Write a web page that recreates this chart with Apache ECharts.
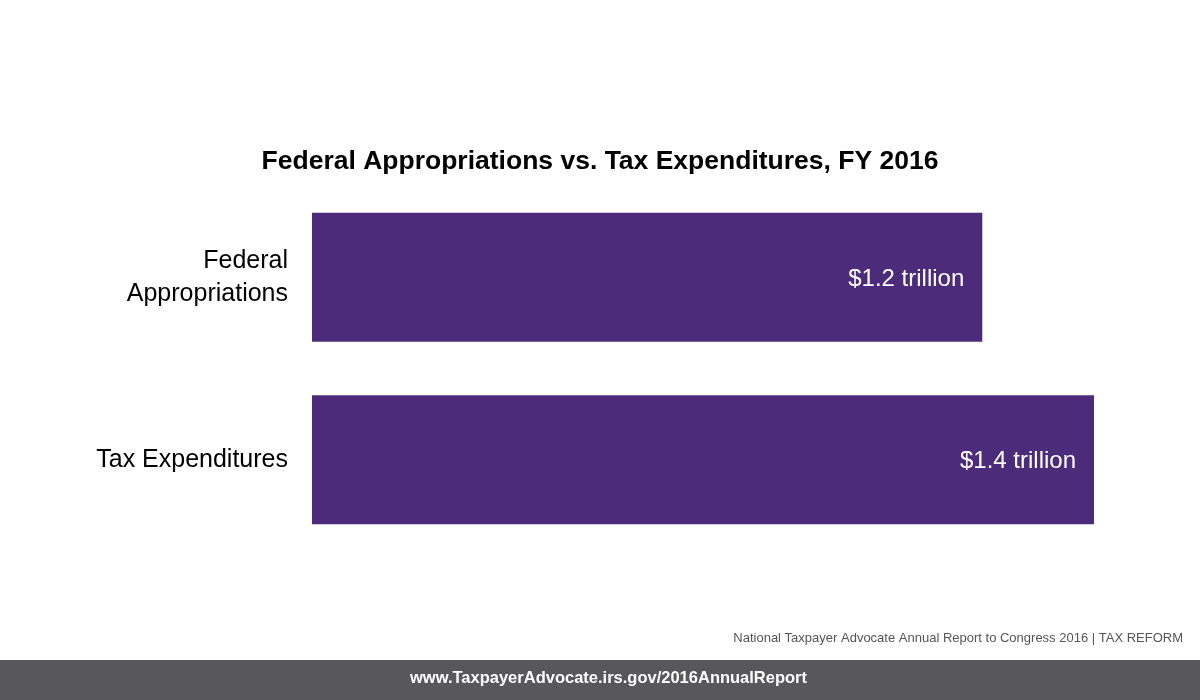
<!DOCTYPE html>
<html>
<head>
<meta charset="utf-8">
<script src="https://cdn.jsdelivr.net/npm/echarts@6/dist/echarts.min.js"></script>
<style>
html,body{margin:0;padding:0;background:#fff;}
#chart{width:1200px;height:700px;}
</style>
</head>
<body>
<div id="chart"></div>
<script>
const categories = ["Federal\nAppropriations", "Tax Expenditures"];
const values = [1.2, 1.4];
const valueLabels = ["$1.2 trillion", "$1.4 trillion"];
const titleText = "Federal Appropriations vs. Tax Expenditures, FY 2016";
const footnoteText = "National Taxpayer Advocate Annual Report to Congress 2016 | TAX REFORM";
const footerText = "www.TaxpayerAdvocate.irs.gov/2016AnnualReport";

const chart = echarts.init(document.getElementById('chart'), null, {renderer: 'canvas'});
chart.setOption({
  animation: false,
  backgroundColor: '#ffffff',
  title: {
    text: titleText,
    left: 'center',
    top: 143,
    textStyle: {
      fontFamily: '"Liberation Sans", Arial, sans-serif',
      fontSize: 26.5,
      fontWeight: 'bold',
      color: '#000000'
    }
  },
  grid: {left: 312, right: 106, top: 186, bottom: 149, containLabel: false},
  xAxis: {
    type: 'value', min: 0, max: 1.4, show: false
  },
  yAxis: {
    type: 'category',
    data: categories,
    inverse: true,
    axisLine: {show: false},
    axisTick: {show: false},
    axisLabel: {
      margin: 24,
      fontFamily: '"Liberation Sans", Arial, sans-serif',
      fontSize: 25,
      lineHeight: 33,
      color: '#000000',
      align: 'right'
    }
  },
  series: [{
    type: 'bar',
    data: values,
    barWidth: 129,
    itemStyle: {color: '#4b2b7a'},
    label: {
      show: true,
      position: 'insideRight',
      distance: 18,
      offset: [0, 2],
      color: '#ffffff',
      fontFamily: '"Liberation Sans", Arial, sans-serif',
      fontSize: 24,
      formatter: p => valueLabels[p.dataIndex]
    }
  }],
  graphic: [
    {
      type: 'text',
      right: 17,
      top: 632,
      style: {
        text: footnoteText,
        font: '13px "Liberation Sans", Arial, sans-serif',
        fill: '#555555'
      }
    },
    {
      type: 'rect',
      left: 0,
      top: 660,
      shape: {width: 1200, height: 40},
      style: {fill: '#58585a'}
    },
    {
      type: 'text',
      left: 410,
      top: 670,
      style: {
        text: footerText,
        font: 'bold 16.5px "Liberation Sans", Arial, sans-serif',
        fill: '#ffffff'
      }
    }
  ]
});
</script>
</body>
</html>
